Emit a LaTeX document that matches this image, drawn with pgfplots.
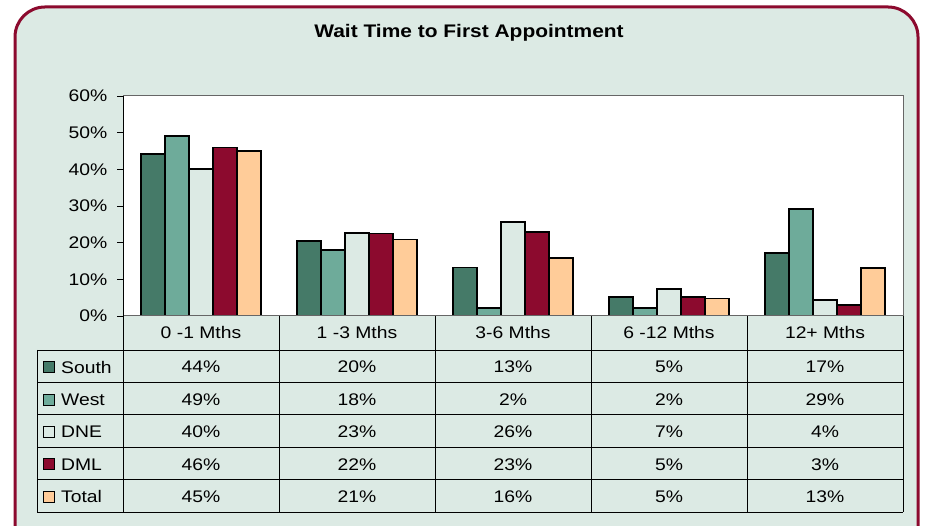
\documentclass[border=0pt]{standalone}
\usepackage{pgfplots}
\pgfplotsset{compat=1.18}
\usepackage{fontspec}
\setmainfont[FakeStretch=1.15]{Liberation Sans}
\definecolor{bgc}{RGB}{220,234,228}
\definecolor{bord}{RGB}{140,10,46}
\definecolor{cSouth}{RGB}{69,122,104}
\definecolor{cWest}{RGB}{110,171,154}
\definecolor{cDNE}{RGB}{220,234,228}
\definecolor{cDML}{RGB}{140,10,46}
\definecolor{cTotal}{RGB}{255,204,153}
\begin{document}
\fontsize{16.8}{19}\selectfont
\begin{tikzpicture}[x=1pt,y=1pt]
\clip (0,0) rectangle (925,526);
\fill[white] (0,0) rectangle (925,526);
\draw[line width=3pt, bord, fill=bgc, rounded corners=30pt] (15,-40) rectangle (918,519);
\node[font=\bfseries\fontsize{18.2}{22}\selectfont] at (469,493) {Wait Time to First Appointment};
\begin{axis}[
  at={(123pt,210pt)}, anchor=south west,
  scale only axis, width=780pt, height=220pt,
  xmin=-0.5, xmax=4.5, ymin=0, ymax=60,
  ybar=0pt, bar width=24pt,
  axis background/.style={fill=white},
  axis line style={draw=none},
  xtick=\empty,
  ytick={0,10,20,30,40,50,60},
  yticklabels={0\%,10\%,20\%,30\%,40\%,50\%,60\%},
  ytick pos=left, tick align=outside, major tick length=6pt,
  ytick style={black, line width=0.8pt},
  yticklabel style={xshift=-4pt},
  every axis plot/.append style={draw=black, line width=1.4pt},
]
\addplot[fill=cSouth] coordinates {(0,44.2) (1,20.4) (2,13.3) (3,5.2) (4,17.2)};
\addplot[fill=cWest] coordinates {(0,49.1) (1,18.0) (2,2.2) (3,2.2) (4,29.2)};
\addplot[fill=cDNE] coordinates {(0,40.1) (1,22.6) (2,25.6) (3,7.4) (4,4.4)};
\addplot[fill=cDML] coordinates {(0,45.9) (1,22.5) (2,22.9) (3,5.2) (4,3.0)};
\addplot[fill=cTotal] coordinates {(0,45.0) (1,20.8) (2,15.8) (3,4.8) (4,13.1)};
\end{axis}
% plot frame
\draw[gray!80!black, line width=1pt] (123,430) -- (903,430) -- (903,210) -- (123,210);
\draw[black, line width=1pt] (123,210) -- (123,430);
% table
\foreach \xx in {123,279,435,591,747,903} \draw[black, line width=0.9pt] (\xx,210) -- (\xx,14);
\draw[black, line width=0.9pt] (37,176) -- (37,14);
\foreach \yy in {176,143.6,111.2,78.8,46.4,14} \draw[black, line width=0.9pt] (37,\yy) -- (903,\yy);
\foreach \lab [count=\i from 0] in {0 -1 Mths,1 -3 Mths,3-6 Mths,6 -12 Mths,12+ Mths}
  \node at ({201+156*\i},193) {\lab};
\foreach \nm/\col [count=\r from 0] in {South/cSouth,West/cWest,DNE/cDNE,DML/cDML,Total/cTotal}{
  \pgfmathsetmacro{\yc}{158.8-32.4*\r}
  \draw[black, line width=0.9pt, fill=\col] (43,\yc-5.5) rectangle (54,\yc+5.5);
  \node[anchor=west, inner sep=0pt] at (61,\yc) {\nm};
}
\foreach \v [count=\i from 0] in {44\%,20\%,13\%,5\%,17\%} \node at ({201+156*\i},158.8) {\v};
\foreach \v [count=\i from 0] in {49\%,18\%,2\%,2\%,29\%} \node at ({201+156*\i},126.4) {\v};
\foreach \v [count=\i from 0] in {40\%,23\%,26\%,7\%,4\%} \node at ({201+156*\i},94.0) {\v};
\foreach \v [count=\i from 0] in {46\%,22\%,23\%,5\%,3\%} \node at ({201+156*\i},61.6) {\v};
\foreach \v [count=\i from 0] in {45\%,21\%,16\%,5\%,13\%} \node at ({201+156*\i},29.2) {\v};
\end{tikzpicture}
\end{document}
